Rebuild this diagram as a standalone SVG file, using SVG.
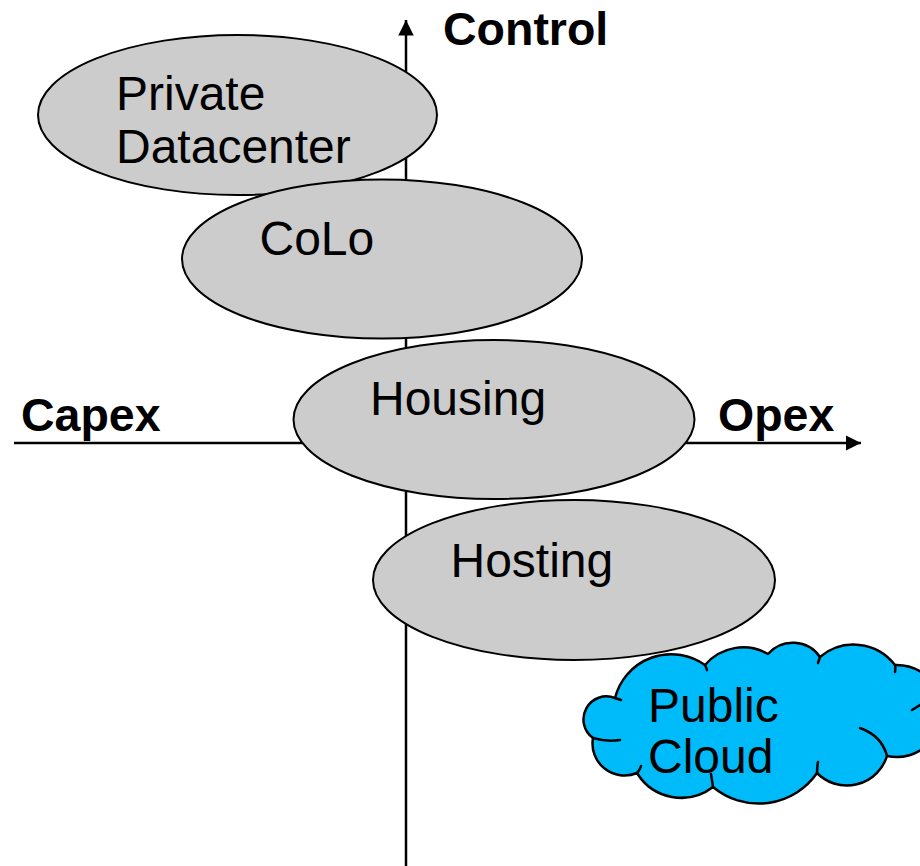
<svg xmlns="http://www.w3.org/2000/svg" width="920" height="866" viewBox="0 0 920 866">
<style>
.node ellipse{fill:#cccccc;stroke:#000;stroke-width:2}
.lbl{font-family:"Liberation Sans",Arial,sans-serif;font-size:48px;fill:#000}
.axl{font-family:"Liberation Sans",Arial,sans-serif;font-size:46.5px;font-weight:bold;fill:#000}
.axis{stroke:#000;stroke-width:2.5;fill:none}
.cloud{fill:#00bbf9;stroke:#000;stroke-width:2.5;stroke-linejoin:round}
.tail{fill:none;stroke:#000;stroke-width:2.5;stroke-linecap:round}
</style>
<defs>
<marker id="ah" viewBox="0 0 10 10" refX="10" refY="5" markerWidth="6.2" markerHeight="6.4" markerUnits="strokeWidth" orient="auto">
<path d="M0,0 L10,5 L0,10 z" fill="#000"/>
</marker>
</defs>
<rect width="920" height="866" fill="#fff"/>
<g id="connectors">
<line class="axis" x1="406" y1="866" x2="406" y2="20" marker-end="url(#ah)"/>
<line class="axis" x1="14" y1="443" x2="861" y2="443" marker-end="url(#ah)"/>
</g>
<g id="axis-labels">
<text class="axl" x="443" y="45">Control</text>
<text class="axl" x="21" y="431">Capex</text>
<text class="axl" x="718" y="431">Opex</text>
</g>
<g id="private-datacenter" class="node">
<ellipse cx="237.5" cy="115" rx="199.5" ry="80"/>
<text class="lbl" x="116" y="110">Private</text>
<text class="lbl" x="116" y="163">Datacenter</text>
</g>
<g id="colo" class="node">
<ellipse cx="382" cy="259" rx="200" ry="79.5"/>
<text class="lbl" x="259.5" y="255">CoLo</text>
</g>
<g id="housing" class="node">
<ellipse cx="494" cy="419.5" rx="200.5" ry="79.5"/>
<text class="lbl" x="370" y="415">Housing</text>
</g>
<g id="hosting" class="node">
<ellipse cx="574" cy="580" rx="201" ry="80"/>
<text class="lbl" x="450.5" y="577">Hosting</text>
</g>
<g id="public-cloud">
<path class="cloud" d="M593,738 A23,23 0 0 1 615,698 A58,58 0 0 1 705,665 A50,50 0 0 1 768,654 A33,33 0 0 1 820,657 A52,52 0 0 1 895,665 A46,46 0 1 1 887,756 A42,42 0 0 1 817,773 A71,71 0 0 1 713,787 A52,52 0 0 1 637,773 A32,32 0 0 1 593,738 Z"/>
<path class="tail" d="M593,738 Q606,742 620,740"/>
<path class="tail" d="M637,773 Q640,770 641,766"/>
<path class="tail" d="M713,787 Q712,780 711,774"/>
<path class="tail" d="M817,773 Q817,767 818,762"/>
<path class="tail" d="M860,728 Q882,736 887,756"/>
<path class="tail" d="M912,710 Q917,707 920,705"/>
<path class="tail" d="M895,665 Q896,668 895,672"/>
<path class="tail" d="M820,657 Q819,660 818,663"/>
<path class="tail" d="M705,665 Q706,667 707,670"/>
<path class="tail" d="M615,698 Q618,699 621,700"/>
<text class="lbl" x="648" y="722">Public</text>
<text class="lbl" x="648" y="773">Cloud</text>
</g>
</svg>
